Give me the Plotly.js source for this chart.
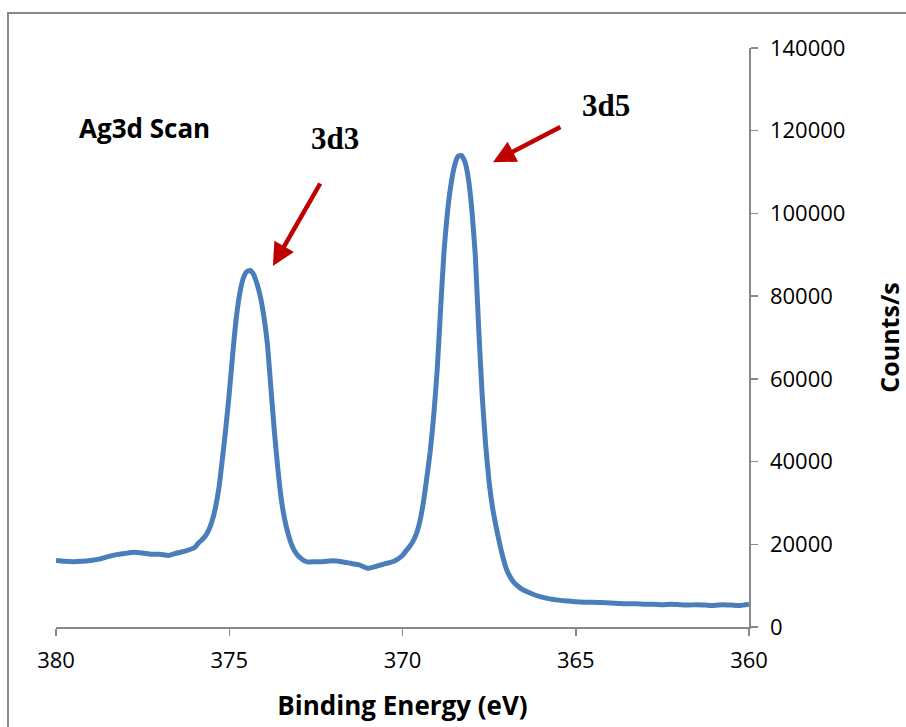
<!DOCTYPE html>
<html>
<head>
<meta charset="utf-8">
<script src="https://cdn.plot.ly/plotly-3.0.1.min.js"></script>
<style>html,body{margin:0;padding:0;background:#fff;}#chart{width:906px;height:727px;}</style>
</head>
<body>
<div id="chart"></div>
<script>
// Binding energy (eV)
var energy = [
  380.0, 379.75, 379.5, 379.25, 379.0, 378.75, 378.5, 378.25, 378.0, 377.75,
  377.5, 377.25, 377.0, 376.75, 376.5, 376.25, 376.0, 375.9, 375.8, 375.7,
  375.6, 375.5, 375.4, 375.3, 375.2, 375.1, 375.0, 374.9, 374.8, 374.7,
  374.6, 374.5, 374.4, 374.3, 374.2, 374.1, 374.0, 373.9, 373.8, 373.7,
  373.6, 373.5, 373.4, 373.3, 373.2, 373.1, 373.0, 372.9, 372.8, 372.7,
  372.5, 372.3, 372.0, 371.75, 371.5, 371.25, 371.0, 370.75, 370.5, 370.25,
  370.0, 369.9, 369.8, 369.7, 369.6, 369.5, 369.4, 369.3, 369.2, 369.1,
  369.0, 368.9, 368.8, 368.7, 368.6, 368.5, 368.4, 368.3, 368.2, 368.1,
  368.0, 367.9, 367.8, 367.7, 367.6, 367.5, 367.4, 367.3, 367.2, 367.1,
  367.0, 366.9, 366.8, 366.6, 366.4, 366.2, 366.0, 365.75, 365.5, 365.25,
  365.0, 364.75, 364.5, 364.25, 364.0, 363.75, 363.5, 363.25, 363.0, 362.75,
  362.5, 362.25, 362.0, 361.75, 361.5, 361.25, 361.0, 360.75, 360.5, 360.25,
  360.0
];
// Counts/s
var counts = [
  16100, 15900, 15800, 15900, 16100, 16400, 17000, 17500, 17800, 18100,
  17900, 17600, 17600, 17300, 17900, 18400, 19200, 20200, 21000, 21900,
  23300, 25500, 28800, 33500, 40500, 48000, 56500, 66000, 74500, 80500,
  84200, 85900, 86200, 85300, 83000, 79800, 75000, 68500, 58000, 47500,
  38500, 31000, 26000, 22500, 19900, 18200, 17100, 16400, 15900, 15700,
  15800, 15800, 16000, 15800, 15400, 15000, 14200, 14700, 15300, 15900,
  17300, 18400, 19400, 20700, 22500, 25500, 30000, 36000, 42500, 51000,
  62000, 77000, 91000, 100500, 107000, 111500, 113800, 114000, 112500, 108500,
  101000, 90000, 72000, 56000, 44000, 35000, 28800, 24300, 20300, 16800,
  14000, 12200, 10900, 9400, 8500, 7800, 7300, 6800, 6500, 6300,
  6100, 6000, 6000, 5900, 5800, 5700, 5600, 5600, 5500, 5500,
  5400, 5500, 5400, 5300, 5400, 5300, 5200, 5400, 5300, 5200,
  5500
];
var xTicks = [380, 375, 370, 365, 360];
var yTicks = [0, 20000, 40000, 60000, 80000, 100000, 120000, 140000];

var trace = {
  x: energy, y: counts, type: 'scatter', mode: 'lines',
  line: {color: '#4a7ebb', width: 5, shape: 'spline', smoothing: 0.5},
  hoverinfo: 'skip'
};

var gray = '#898989';
var layout = {
  width: 906, height: 727,
  margin: {l: 56, r: 157, t: 48, b: 100},
  paper_bgcolor: '#ffffff', plot_bgcolor: '#ffffff',
  showlegend: false,
  font: {family: 'Open Sans, Liberation Sans, sans-serif', color: '#000'},
  xaxis: {
    range: [380, 360], tickvals: xTicks, ticktext: xTicks.map(String),
    showgrid: false, zeroline: false, showline: true, linecolor: gray, linewidth: 1.5,
    ticks: 'outside', ticklen: 7, tickcolor: gray, tickwidth: 1.5,
    tickfont: {size: 22, family: 'Open Sans, sans-serif', color: '#000'},
    ticklabelstandoff: 6,
    title: {text: '<b>Binding Energy (eV)</b>', font: {size: 26, family: 'Open Sans, sans-serif', color: '#000'}, standoff: 24}
  },
  yaxis: {
    range: [0, 140000], tickvals: yTicks, ticktext: yTicks.map(String), side: 'right',
    showgrid: false, zeroline: false, showline: true, linecolor: gray, linewidth: 1.5,
    ticks: 'outside', ticklen: 7, tickcolor: gray, tickwidth: 1.5,
    tickfont: {size: 22, family: 'Open Sans, sans-serif', color: '#000'},
    ticklabelstandoff: 8,
    title: {text: '<b>Counts/s</b>', font: {size: 25, family: 'Open Sans, sans-serif', color: '#000'}, standoff: 38}
  },
  shapes: [{
    type: 'rect', xref: 'paper', yref: 'paper',
    x0: (8 - 56) / 693, x1: (920 - 56) / 693, y0: (627 - 740) / 579, y1: (627 - 13) / 579,
    line: {color: gray, width: 2}, fillcolor: 'rgba(0,0,0,0)', layer: 'below'
  }],
  annotations: [
    {x: 377.46, y: 120700, xref: 'x', yref: 'y', text: '<b>Ag3d Scan</b>', showarrow: false,
     font: {size: 26, family: 'Open Sans, sans-serif', color: '#000'}},
    {x: 371.96, y: 118200, xref: 'x', yref: 'y', text: '<b>3d3</b>', showarrow: false,
     font: {size: 31, family: 'Liberation Serif, serif', color: '#000'}},
    {x: 364.13, y: 126000, xref: 'x', yref: 'y', text: '<b>3d5</b>', showarrow: false,
     font: {size: 31, family: 'Liberation Serif, serif', color: '#000'}},
    {x: 373.74, y: 87300, ax: 372.35, ay: 107600, xref: 'x', yref: 'y', axref: 'x', ayref: 'y',
     text: '', showarrow: true, arrowhead: 2, arrowsize: 1, arrowwidth: 4.5, arrowcolor: '#c00000', standoff: 0},
    {x: 367.39, y: 112400, ax: 365.40, ay: 121100, xref: 'x', yref: 'y', axref: 'x', ayref: 'y',
     text: '', showarrow: true, arrowhead: 2, arrowsize: 1, arrowwidth: 4.5, arrowcolor: '#c00000', standoff: 0}
  ]
};

Plotly.newPlot('chart', [trace], layout, {displayModeBar: false, staticPlot: true});
</script>
</body>
</html>
